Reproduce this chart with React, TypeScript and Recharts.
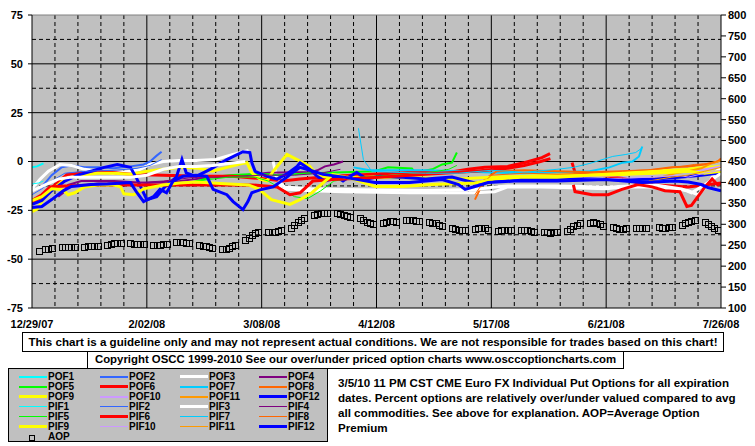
import React from 'react';
import { ComposedChart, Line, Scatter, XAxis, YAxis, CartesianGrid, ReferenceLine } from 'recharts';

// days counted from 12/29/07
const dateLabels = ['12/29/07', '2/02/08', '3/08/08', '4/12/08', '5/17/08', '6/21/08', '7/26/08'];
const dayTicks = [0, 35, 70, 105, 140, 175, 210];
const monthLines = [35, 70, 105, 140, 175];
const weekLines = [7, 14, 21, 28, 42, 49, 56, 63, 77, 84, 91, 98, 112, 119, 126, 133, 147, 154, 161, 168, 182, 189, 196, 203];
const pctTicks = [-75, -50, -25, 0, 25, 50, 75];
const pctMajor = [-50, -25, 0, 25, 50];
const pctMinor = [-62.5, -37.5, -12.5, 12.5, 37.5, 62.5];
const aopTicks = [100, 150, 200, 250, 300, 350, 400, 450, 500, 550, 600, 650, 700, 750, 800];

// percent over/under valued, [day, value]
const POF1 = [[0, -3], [1.5, -2.5], [3.5, -1]];
const PIF1 = [[0, -11.5], [2, -11], [3.5, -10]];
const POF2 = [[0, -15], [3, -13], [6, -7], [9, -3], [12, -2], [16, -3], [20, -3], [25, -3.5], [30, -2.5], [34, -1.5], [36, 0], [38, 3], [39.5, 5]];
const PIF2 = [[0, -17], [3, -14], [6, -10], [10, -6], [16, -5], [25, -4.5], [32, -3.5], [36, -2], [39.5, 1]];
const POF3 = [[0, -14], [2.5, -9], [5, -5], [8.5, -1.5], [12, -2], [16, -4], [20, -5], [25, -6], [30, -5], [33, -4], [36, -1.5], [40, 0], [45, 0.5], [50, 0.5], [56, 1], [61, 3.5], [66, 5.6], [70, null],
  [73.5, 0], [74.5, -8], [76, -14], [85, -15], [95, -15.5], [105, -15.8], [115, -16], [125, -16], [135, -16], [141, -15.5], [145, -13], [155, -13], [165, -13.5], [175, -14], [180, -13], [190, -13], [196, -14], [200, -15], [203, -17], [206, -12], [208, -6], [210, -3]];
const PIF3 = [[0, -15], [4, -12], [8, -9], [12, -8], [20, -8], [30, -8], [35, -7], [40, -4], [45, -2.5], [50, -2.5], [55, -2], [60, -1], [65, 0], [70, null],
  [75, -10], [77, -13], [85, -14], [100, -14.5], [120, -14.8], [135, -14.3], [141, -13], [145, -12.5], [160, -12.5], [175, -13], [190, -12], [198, -14], [201, -16], [205, -12], [210, -6]];
const POF4 = [[8, -18], [9.5, -16], [11, -12], [15, -10], [25, -10], [35, -11], [45, -10], [55, -8], [65, -7], [72, -5.8], [80, -5.5], [85, -5.5], [87, -4.5], [89.3, -2.5], [92, -1.5], [94.8, 0]];
const PIF4 = [[8, -17], [11, -13], [20, -11], [30, -11], [40, -10], [50, -8], [60, -8], [70, -7], [80, -7], [88, -6], [94, -4]];
const POF5 = [[42, -12], [48, -11], [55, -8], [60, -7], [66, -6.5], [72, -6.5], [75, -7], [85, -6], [95, -5.5], [104.5, -5], [108.5, -3], [115.8, -3.6], [116.7, -5.6], [122, -4], [125, -1.5], [128, -0.6], [129.5, 4.6]];
const PIF5 = [[42, -13], [50, -10], [60, -8], [68, -8], [72, -10], [76, -14], [80, -18], [84, -19], [88, -15], [92, -10], [100, -8], [110, -7], [120, -6], [127, -4], [129.5, -2]];
const POF6 = [[0, -21], [3.4, -18], [6.4, -12.8], [10.7, -6.6], [15.5, -5.8], [20.7, -5], [30.8, -6.6], [40, -7], [51, -7.6], [61, -7.6], [71.6, -9], [76.5, -10], [81.7, -9], [91.7, -7.6], [102, -6.6], [114.6, -5.6], [120.7, -5], [126.8, -5.6], [132.9, -4], [138, -3], [145, -2.5], [150, -0.6], [155.4, 2], [157.9, 4], [161, null],
  [164.6, -0.6], [165.5, -5.6], [171, -6.6], [176, -7.6], [181, -9], [186, -11.8], [190, -12], [195, -12.5], [200, -13], [205, -12], [210, -11]];
const PIF6 = [[0, -20], [3, -17], [5.5, -13], [10, -12.5], [20, -12], [35, -12], [47, -12], [56, -12], [67, -12], [74.7, -13], [78.6, -17], [81.7, -16], [85.6, -10], [91.7, -9.2], [106, -8], [115, -7], [125, -6], [135, -5], [145, -3.5], [150, -2], [155, 0], [158, 1.5], [161, null],
  [165, -12], [165.5, -15.4], [170.7, -17], [175.6, -17], [179.8, -14.3], [184.7, -11.8], [189, -13], [192.9, -15], [197.5, -15.5], [199.6, -23], [201, -22.5], [205, -13.3], [207.3, -9], [209, -12], [210, -11]];
const POF7 = [[98, -3], [103, -4.5], [110, -4.5], [120, -4.5], [130, -5], [140, -5.6], [150, -6], [160, -5.5], [170, -5], [176, -3], [180, -0.6], [183, 0], [185, 2.6], [186, 7.7]];
const PIF7 = [[99.5, 17], [101, 1], [102.5, -2.5], [103.5, -5], [110, -5.5], [120, -6], [130, -6], [140, -4.5], [150, -5.5], [160, -4], [165, -3], [170, -1], [177, 2.6], [181, 3.6], [184, 4.6], [186, 7]];
const POF8 = [[135, -19.5], [136.5, -14.3], [138, -9], [141.7, -5], [150, -4.5], [160, -5], [170, -5.5], [180, -5], [188, -4.5], [195, -3], [200, -2.5], [205, -1.5], [209, 0], [210, 1.5]];
const PIF8 = [[135, -17], [137, -12], [140, -7], [150, -6], [160, -6.5], [170, -6], [180, -5], [190, -4], [196, -3], [202, -1.5], [207, -1], [210, 1]];
const POF9 = [[0, -25.6], [1.5, -24.5], [3.4, -19.5], [6.4, -14.3], [10, -9], [15, -7], [20, -6], [25, -6], [30, -6.5], [35, -5], [40, -4], [45, -3], [51, -3.5], [55, -5], [59.4, -3], [64, -1], [65.5, -0.6], [67, -5.8], [69.5, -9], [71.6, -10], [73.5, -5], [77.7, 3.6], [80.8, 1], [84.7, -2.5], [87, -7.6], [92, -8], [100, -8], [110, -8], [120, -8.5], [130, -9], [140, -8], [150, -7.5], [160, -7], [170, -6.6], [180, -5.8], [190, -5], [200, -4], [205, -3], [210, -2.5]];
const PIF9 = [[0, -20], [3, -18], [6, -14], [9.5, -14.5], [11, -17], [13, -16], [16, -13], [20, -12], [25, -12], [27, -13], [28, -16.5], [31, -17], [34, -14], [40, -12], [45, -11], [50, -10.5], [55, -11], [60, -11.5], [66, -12], [69, -14], [73, -19.5], [78.6, -22], [81.7, -19.5], [85.3, -16], [91.7, -6.6], [98, -9], [104.5, -12.8], [113, -12.8], [122, -11.8], [135, -11], [141, -9], [150, -8], [160, -8], [170, -7], [180, -6.6], [190, -6], [200, -5], [205, -6], [210, -5]];
const POF10 = [[158, -9], [165, -8], [170, -7.5], [180, -7], [190, -6.5], [195, -5.6], [200, -5], [205, -4], [210, -2.5]];
const PIF10 = [[158, -10], [170, -9], [180, -8.5], [190, -8], [197, -7], [200, -8], [205, -6], [210, -4.5]];
const POF11 = [[188, -9], [192, -8], [196, -6], [200, -5], [204, -3.5], [207, -1], [210, 0.5]];
const PIF11 = [[188, -10], [195, -8], [200, -7], [205, -5], [210, -3]];
const POF12 = [[0, -22], [3, -20], [6, -15], [10, -10], [14, -7], [18, -5], [22, -3], [26, -1.5], [30, -3], [32, -9], [35, -19.5], [38, -18], [40.5, -13], [44, -8], [45.7, 1], [47, -5.8], [50, -7.6], [54.3, -4], [59.4, 1], [64.3, 5], [66.4, 4.6], [67, -0.5], [68, -5], [71.6, -7.6], [74.7, -9], [78, -6], [80.8, -2.5], [81.7, -0.6], [84.7, -4], [86.9, -7.6], [89.3, -10], [93, -8], [94.8, -10], [96.9, -7.6], [99, -5.6], [102, -9], [106, -7.6], [112, -8], [120, -9], [128, -8], [135, -11], [140, -10], [150, -9], [160, -9], [170, -9], [180, -9.5], [190, -9], [198, -8], [204, -7], [210, -5.8]];
const PIF12 = [[0, -23.5], [3, -23], [6, -19.5], [9.5, -15], [12, -12.8], [18, -11.8], [23, -11.5], [30, -10.8], [32, -16], [34, -20.5], [37, -18], [39, -14.3], [41, -16], [43, -10], [46, -7.6], [50, -7], [53.3, -7.6], [55.2, -14.3], [59.4, -17], [61.3, -20.5], [64.3, -24.6], [65.8, -20.5], [67, -16], [69.5, -14.5], [73.5, -13], [77.7, -8], [79.5, -5.6], [81.7, -3], [84.7, -4.5], [86.9, -5.6], [88.7, -6.6], [95, -8], [104.5, -10.8], [115, -10.8], [125, -9.2], [130, -11.8], [132, -14.3], [135, -12.8], [139, -10.8], [147, -10], [160, -10], [175, -9.2], [186, -10.8], [196, -10], [200, -10.5], [204, -11.8], [206, -13.3], [210, -15]];

// average option premium, one row per week (Mon..Fri), null = holiday
const aopWeeks = [
  [237, null, 240, 242, 243], [245, 246, 246, 245, 246], [246, 247, 247, 248, 248], [250, 252, 255, 255, 255],
  [255, 254, 253, 253, 252], [250, 250, 251, 252, 253], [257, 258, 258, 256, 255], [251, 249, 247, 245, 243],
  [241, 241, 243, 248, 250], [262, 268, 274, 278, 281], [281, 281, 282, 284, 286], [291, 298, 305, 310, 315],
  [322, 325, 327, 327, 327], [327, 325, 322, 320, 318], [315, 310, 305, 302, 300], [303, 305, 307, 308, 306],
  [310, 311, 310, 309, 308], [305, 304, 302, 299, 296], [292, 289, 287, 286, 286], [289, 290, 291, 291, 286],
  [284, 287, 287, 286, 286], [287, 287, 286, 285, 281], [281, 281, 280, 281, 282], [284, 289, 295, 299, 303],
  [304, 305, 304, 300, 296], [293, 290, 289, 289, 290], [290, 291, 292, 292, null], [293, 292, 292, 293, 293],
  [298, 302, 306, 309, 310], [305, 301, 296, 290, 286],
];

const series = [
  { name: 'POF1', data: POF1, color: '#00FFFF', width: 2 },
  { name: 'POF2', data: POF2, color: '#3366FF', width: 2 },
  { name: 'POF3', data: POF3, color: '#FFFFFF', width: 3 },
  { name: 'POF4', data: POF4, color: '#800080', width: 2 },
  { name: 'POF5', data: POF5, color: '#00FF00', width: 2 },
  { name: 'POF6', data: POF6, color: '#FF0000', width: 3 },
  { name: 'POF7', data: POF7, color: '#00CCFF', width: 2 },
  { name: 'POF8', data: POF8, color: '#FF6600', width: 2 },
  { name: 'POF9', data: POF9, color: '#FFFF00', width: 3 },
  { name: 'POF10', data: POF10, color: '#CC99FF', width: 2 },
  { name: 'POF11', data: POF11, color: '#FF9900', width: 2 },
  { name: 'POF12', data: POF12, color: '#0000FF', width: 3 },
  { name: 'PIF1', data: PIF1, color: '#00FFFF', width: 1 },
  { name: 'PIF2', data: PIF2, color: '#3366FF', width: 1 },
  { name: 'PIF3', data: PIF3, color: '#FFFFFF', width: 3 },
  { name: 'PIF4', data: PIF4, color: '#800080', width: 1 },
  { name: 'PIF5', data: PIF5, color: '#00FF00', width: 1 },
  { name: 'PIF6', data: PIF6, color: '#FF0000', width: 3 },
  { name: 'PIF7', data: PIF7, color: '#00CCFF', width: 1 },
  { name: 'PIF8', data: PIF8, color: '#FF6600', width: 1 },
  { name: 'PIF9', data: PIF9, color: '#FFFF00', width: 3 },
  { name: 'PIF10', data: PIF10, color: '#CC99FF', width: 1 },
  { name: 'PIF11', data: PIF11, color: '#FF9900', width: 1 },
  { name: 'PIF12', data: PIF12, color: '#0000FF', width: 3 },
];

const noteLines = [
  '3/5/10 11 PM CST CME Euro FX Individual Put Options for all expiration',
  'dates. Percent options are relatively over/under valued compared to avg',
  'all commodities. See above for explanation. AOP=Average Option',
  'Premium',
];

const FONT = '"Liberation Sans", Arial, sans-serif';

const toRows = (pts: any[]) => pts.map(([day, v]) => ({ day, v }));

const aopData: { day: number; aop: number }[] = [];
aopWeeks.forEach((week, w) => {
  week.forEach((v, i) => {
    if (v !== null) aopData.push({ day: w * 7 + 2 + i, aop: v });
  });
});

const AopSquare = (props: any) => {
  const { cx, cy } = props;
  if (cx == null || cy == null) return null;
  return <rect x={Math.round(cx) - 2.5} y={Math.round(cy) - 2.5} width={6} height={6} fill="none" stroke="#000" strokeWidth={1} />;
};

const tickStyle = { fill: '#000', fontSize: 11, fontWeight: 'bold', fontFamily: FONT };

const LegendBox = () => {
  const colX = [10, 91, 171, 250];
  return (
    <div style={{ position: 'absolute', left: 8, top: 368, width: 320, height: 74, background: '#C0C0C0', border: '1px solid #000', boxSizing: 'border-box' }}>
      {series.map((s, i) => {
        const c = i % 4;
        const r = Math.floor(i / 4);
        const top = 3 + r * 10;
        return (
          <React.Fragment key={s.name}>
            <div style={{ position: 'absolute', left: colX[c], top: top + 5 - Math.ceil(s.width / 2), width: 28, height: s.width, background: s.color }} />
            <div style={{ position: 'absolute', left: colX[c] + 29, top: top, fontSize: 10, fontWeight: 'bold', lineHeight: '10px', height: 10 }}>{s.name}</div>
          </React.Fragment>
        );
      })}
      <div style={{ position: 'absolute', left: 20, top: 66, width: 4, height: 4, border: '1px solid #000' }} />
      <div style={{ position: 'absolute', left: 39, top: 63, fontSize: 10, fontWeight: 'bold', lineHeight: '10px', height: 10 }}>AOP</div>
    </div>
  );
};

export default function App() {
  return (
    <div style={{ position: 'absolute', left: 0, top: 0, width: 755, height: 446, background: '#fff', fontFamily: FONT, color: '#000' }}>
      <ComposedChart width={755} height={340} margin={{ top: 15, right: 0, bottom: 0, left: 0 }} style={{ fontFamily: FONT }}>
        <CartesianGrid stroke="#000" fill="#C0C0C0" horizontalValues={pctMajor} verticalValues={monthLines} />
        <CartesianGrid stroke="#000" strokeDasharray="4 3" horizontalValues={pctMinor} verticalValues={weekLines} />
        <ReferenceLine y={75} stroke="#808080" />
        <XAxis
          dataKey="day"
          type="number"
          domain={[0, 210]}
          ticks={dayTicks}
          tickFormatter={(v: number) => dateLabels[dayTicks.indexOf(v)]}
          height={32}
          stroke="#000"
          tickLine={false}
          tickSize={0}
          tickMargin={12}
          tick={tickStyle}
          interval={0}
          allowDataOverflow
        />
        <YAxis
          domain={[-75, 75]}
          ticks={pctTicks}
          width={32}
          stroke="#000"
          tickSize={4}
          tickMargin={5}
          tick={tickStyle}
          interval={0}
          allowDataOverflow
        />
        <YAxis
          yAxisId="r"
          orientation="right"
          domain={[100, 800]}
          ticks={aopTicks}
          width={34}
          stroke="#000"
          tickSize={5}
          tickMargin={2}
          tick={tickStyle}
          interval={0}
        />
        {series.map((s) => (
          <Line
            key={s.name}
            data={toRows(s.data)}
            dataKey="v"
            type="linear"
            stroke={s.color}
            strokeWidth={s.width}
            dot={false}
            activeDot={false}
            connectNulls={false}
            isAnimationActive={false}
          />
        ))}
        <Scatter yAxisId="r" data={aopData} dataKey="aop" shape={<AopSquare />} isAnimationActive={false} />
      </ComposedChart>
      <div style={{ position: 'absolute', left: 22, top: 332, width: 702, height: 20, border: '1px solid #000', boxSizing: 'border-box', fontSize: 11.6, fontWeight: 'bold', textAlign: 'center', lineHeight: '18px', whiteSpace: 'nowrap' }}>
        This chart is a guideline only and may not represent actual conditions. We are not responsible for trades based on this chart!
      </div>
      <div style={{ position: 'absolute', left: 87, top: 351, width: 537, height: 18, border: '1px solid #000', borderTop: 'none', boxSizing: 'border-box', fontSize: 11.4, fontWeight: 'bold', textAlign: 'center', lineHeight: '16px', whiteSpace: 'nowrap' }}>
        Copyright OSCC 1999-2010 See our over/under priced option charts www.osccoptioncharts.com
      </div>
      <LegendBox />
      <div style={{ position: 'absolute', left: 338, top: 375, fontSize: 11.6, fontWeight: 'bold', lineHeight: '15px', whiteSpace: 'nowrap' }}>
        {noteLines.map((t) => (
          <div key={t}>{t}</div>
        ))}
      </div>
    </div>
  );
}
